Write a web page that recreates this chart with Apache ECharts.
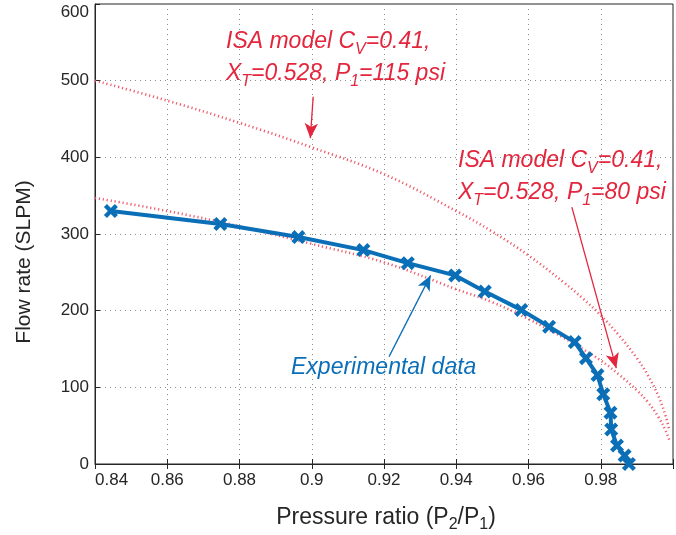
<!DOCTYPE html>
<html>
<head>
<meta charset="utf-8">
<script src="https://cdn.jsdelivr.net/npm/echarts@6/dist/echarts.min.js"></script>
<style>
  html, body { margin: 0; padding: 0; background: #fff; }
  #chart { width: 676px; height: 535px; }
</style>
</head>
<body>
<div id="chart"></div>
<script>
// measured data (pressure ratio P2/P1, flow rate SLPM)
const expRatio = [0.8444, 0.8747, 0.8963, 0.9143, 0.9266, 0.9397, 0.9479, 0.9580, 0.9657,
  0.9728, 0.9759, 0.9791, 0.9807, 0.9827, 0.9829, 0.9845, 0.9866, 0.9878]
const expFlow = [330, 313, 296, 279, 262, 246, 225, 201, 179, 159, 138, 116, 91, 67, 45, 24, 11, 0]

// ISA model curves
const isaRatio = [0.84, 0.86, 0.88, 0.90, 0.92, 0.94, 0.95, 0.96, 0.97, 0.975, 0.98, 0.985,
  0.99, 0.993, 0.996, 0.998, 0.999]
const isa115 = [500, 474, 445, 413, 378, 330, 303, 272, 236, 216, 194, 168, 138, 116, 88, 62, 44]
const isa80 = [347, 330, 310, 287, 263, 228, 211, 189, 164, 150, 135, 117, 96, 81, 61, 43, 31]

const xTicks = [0.84, 0.86, 0.88, 0.9, 0.92, 0.94, 0.96, 0.98]
const yTicks = [0, 100, 200, 300, 400, 500, 600]

const red = '#e3263d'
const blue = '#0b6fb8'
const font = 'Liberation Sans, Arial, sans-serif'

const chart = echarts.init(document.getElementById('chart'))

function pairs(xs, ys) {
  return xs.map((x, i) => [x, ys[i]])
}

const gridLine = { show: true, lineStyle: { color: '#8c8c8c', type: [1, 4], width: 1 } }
const isaLine = { color: '#ec4a5c', width: 2.6, type: [1.2, 2.8], opacity: 0.9 }
const subStyle = { fontSize: 16, fontStyle: 'italic', fontFamily: font, fill: red, padding: [16, 0, 0, 0] }

chart.setOption({
  backgroundColor: '#ffffff',
  animation: false,
  grid: {
    left: 95,
    top: 4,
    width: 586,
    height: 460,
    show: true,
    borderColor: '#262626',
    borderWidth: 1
  },
  xAxis: [{
    type: 'value',
    min: 0.84,
    max: 1.0,
    interval: 0.02,
    axisLine: { show: true, onZero: false, lineStyle: { color: '#262626', width: 1 } },
    axisTick: { show: true, inside: true, length: 5, lineStyle: { color: '#262626' } },
    axisLabel: {
      margin: 8,
      fontFamily: font,
      fontSize: 17,
      color: '#262626',
      alignMinLabel: 'left',
      formatter: function (v) {
        const r = Math.round(v * 100) / 100
        return xTicks.indexOf(r) >= 0 ? String(r) : ''
      }
    },
    splitLine: gridLine
  }, {
    type: 'value',
    position: 'top',
    min: 0.84,
    max: 1.0,
    interval: 0.02,
    axisLine: { show: false },
    axisTick: { show: true, inside: true, length: 5, lineStyle: { color: '#262626' } },
    axisLabel: { show: false },
    splitLine: { show: false }
  }],
  yAxis: [{
    type: 'value',
    min: 0,
    max: 600,
    interval: 100,
    axisLine: { show: true, lineStyle: { color: '#262626', width: 1 } },
    axisTick: { show: true, inside: true, length: 5, lineStyle: { color: '#262626' } },
    axisLabel: {
      margin: 6,
      fontFamily: font,
      fontSize: 17,
      color: '#262626',
      formatter: function (v) {
        if (yTicks.indexOf(v) < 0) return ''
        return v === 600 ? '{top|600}' : String(v)
      },
      rich: {
        top: { fontFamily: font, fontSize: 17, color: '#262626', padding: [16, 0, 0, 0] }
      }
    },
    splitLine: gridLine
  }],
  series: [{
    name: 'ISA 115 psi',
    type: 'line',
    data: pairs(isaRatio, isa115),
    smooth: 0.4,
    showSymbol: false,
    lineStyle: isaLine,
    markLine: {
      silent: true,
      symbol: ['none', 'arrow'],
      symbolSize: [10, 15],
      label: { show: false },
      lineStyle: { color: red, width: 1.3, type: 'solid' },
      data: [
        [{ coord: [0.9004, 479] }, { coord: [0.8996, 425] }],
        [{ coord: [0.9720, 335] }, { coord: [0.9843, 125] }]
      ]
    },
    z: 2
  }, {
    name: 'ISA 80 psi',
    type: 'line',
    data: pairs(isaRatio, isa80),
    smooth: 0.4,
    showSymbol: false,
    lineStyle: isaLine,
    z: 2
  }, {
    name: 'Experimental data',
    type: 'line',
    data: pairs(expRatio, expFlow),
    symbol: 'path://M2.2,0 L5,2.8 L7.8,0 L10,2.2 L7.2,5 L10,7.8 L7.8,10 L5,7.2 L2.2,10 L0,7.8 L2.8,5 L0,2.2 Z',
    symbolSize: 14,
    showSymbol: true,
    clip: false,
    lineStyle: { color: blue, width: 4 },
    itemStyle: { color: blue },
    markLine: {
      silent: true,
      symbol: ['none', 'arrow'],
      symbolSize: [10, 15],
      label: { show: false },
      lineStyle: { color: blue, width: 1.3, type: 'solid' },
      data: [
        [{ coord: [0.9214, 140] }, { coord: [0.9329, 246] }]
      ]
    },
    z: 3
  }],
  graphic: [{
    type: 'text',
    left: 226,
    top: 26,
    style: {
      text: 'ISA model C{sub|V}=0.41,\nX{sub|T}=0.528, P{sub|1}=115 psi',
      font: 'italic 23px ' + font,
      fill: red,
      lineHeight: 32,
      rich: { sub: subStyle }
    }
  }, {
    type: 'text',
    left: 458,
    top: 145,
    style: {
      text: 'ISA model C{sub|V}=0.41,\nX{sub|T}=0.528, P{sub|1}=80 psi',
      font: 'italic 23px ' + font,
      fill: red,
      lineHeight: 32,
      rich: { sub: subStyle }
    }
  }, {
    type: 'text',
    left: 291,
    top: 356,
    style: {
      text: 'Experimental data',
      font: 'italic 23px ' + font,
      fill: blue
    }
  }, {
    type: 'text',
    x: 386,
    y: 518,
    style: {
      text: 'Pressure ratio (P{sub|2}/P{sub|1})',
      font: '23px ' + font,
      fill: '#262626',
      align: 'center',
      verticalAlign: 'middle',
      rich: {
        sub: { fontSize: 16, fontFamily: font, fill: '#262626', padding: [14, 0, 0, 0] }
      }
    }
  }, {
    type: 'text',
    x: 24,
    y: 262,
    rotation: Math.PI / 2,
    style: {
      text: 'Flow rate (SLPM)',
      font: '21px ' + font,
      fill: '#262626',
      align: 'center',
      verticalAlign: 'middle'
    }
  }]
})
</script>
</body>
</html>
